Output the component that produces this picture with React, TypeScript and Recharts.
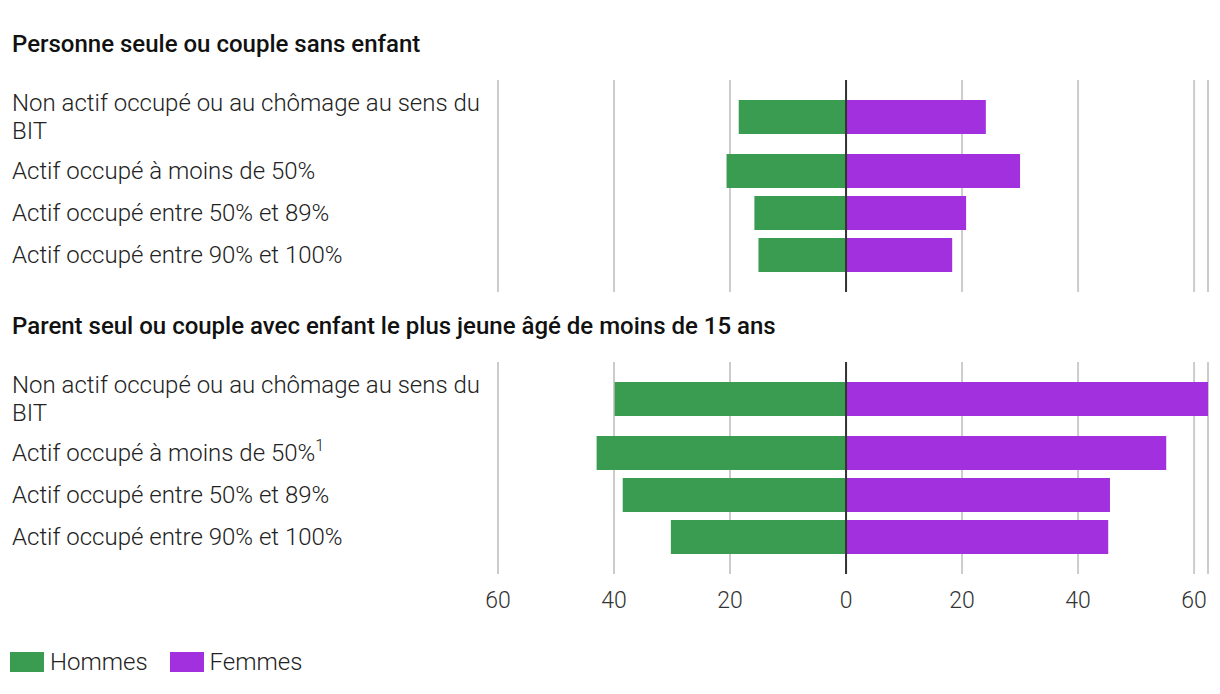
import { BarChart, Bar, XAxis, YAxis, CartesianGrid, ReferenceLine } from "recharts";

const categories1 = [
  "Non actif occupé ou au chômage au sens du BIT",
  "Actif occupé à moins de 50%",
  "Actif occupé entre 50% et 89%",
  "Actif occupé entre 90% et 100%",
];
const categories2 = [
  "Non actif occupé ou au chômage au sens du BIT",
  "Actif occupé à moins de 50%¹",
  "Actif occupé entre 50% et 89%",
  "Actif occupé entre 90% et 100%",
];
const hommes1 = [18.5, 20.6, 15.8, 15.1];
const femmes1 = [24.1, 30.0, 20.7, 18.3];
const hommes2 = [39.9, 43.0, 38.5, 30.2];
const femmes2 = [62.4, 55.2, 45.5, 45.2];
const xTicks = [-60, -40, -20, 0, 20, 40, 60];
const titles = [
  "Personne seule ou couple sans enfant",
  "Parent seul ou couple avec enfant le plus jeune âgé de moins de 15 ans",
];
const seriesNames = ["Hommes", "Femmes"];
const seriesColors = ["#3a9c50", "#a230de"];

const FONT = "Roboto, 'Noto Sans', sans-serif";
// même domaine pour les deux panneaux, la barre la plus longue touche le bord droit
const xMax = Math.max(60, ...femmes1, ...femmes2);
const MAX_CHARS = 42;
const LINE_H = 28;
// une ligne de libellé en plus agrandit la rangée d'environ 12px (pas de 42px)
const EXTRA_ROW = 12 / 42;
const EDGE_PAD = 37 / 42;

function wrap(label: string) {
  const lines: string[] = [];
  let cur = "";
  for (const w of label.split(" ")) {
    const next = cur ? cur + " " + w : w;
    if (next.length > MAX_CHARS && cur) {
      lines.push(cur);
      cur = w;
    } else cur = next;
  }
  lines.push(cur);
  return lines;
}

// hommes à gauche (valeurs négatives), femmes à droite
const buildRows = (cats: string[], h: number[], f: number[]) => {
  let pos = 0;
  return cats.map((name, i) => {
    const row = { name, pos, hommes: -h[i], femmes: f[i] };
    pos += 1 + (wrap(name).length - 1) * EXTRA_ROW;
    return row;
  });
};

const makeTick = (rows: any[]) => (props: any) => {
  const { y, index } = props;
  const lines = wrap(String(rows[index]?.name ?? ""));
  const y0 = y - ((lines.length - 1) * LINE_H) / 2;
  return (
    <text x={12} y={y0} fill="#222" style={{ fontFamily: FONT, fontSize: 24, fontWeight: 300 }} dominantBaseline="central">
      {lines.map((l, i) => {
        const sup = l.endsWith("¹");
        return (
          <tspan key={i} x={12} y={y0 + i * LINE_H}>
            {sup ? l.slice(0, -1) : l}
            {sup && (
              <tspan fontSize={16} dy={-8}>
                1
              </tspan>
            )}
          </tspan>
        );
      })}
    </text>
  );
};

function Panel({ rows, showAxis, height }: { rows: any[]; showAxis: boolean; height: number }) {
  const positions = rows.map((r) => r.pos);
  const last = positions[positions.length - 1];
  return (
    <BarChart
      width={1220}
      height={height}
      data={rows}
      layout="vertical"
      stackOffset="sign"
      margin={{ top: 10, right: 12, bottom: 0, left: 0 }}
    >
      <CartesianGrid horizontal={false} stroke="#cccccc" strokeWidth={2} />
      <XAxis
        type="number"
        domain={[-60, xMax]}
        ticks={xTicks}
        hide={!showAxis}
        height={40}
        axisLine={false}
        tickLine={false}
        tickMargin={12}
        tickFormatter={(v: number) => String(Math.abs(v))}
        tick={{ fill: "#333", fontSize: 23, fontWeight: 300, fontFamily: FONT }}
      />
      <YAxis
        type="number"
        dataKey="pos"
        domain={[-EDGE_PAD, last + EDGE_PAD]}
        ticks={positions}
        interval={0}
        width={498}
        axisLine={false}
        tickLine={false}
        tick={makeTick(rows)}
      />
      <Bar dataKey="hommes" name={seriesNames[0]} stackId="s" fill={seriesColors[0]} barSize={34} isAnimationActive={false} />
      <Bar dataKey="femmes" name={seriesNames[1]} stackId="s" fill={seriesColors[1]} barSize={34} isAnimationActive={false} />
      <ReferenceLine x={0} stroke="#333" strokeWidth={2} />
    </BarChart>
  );
}

const titleStyle = (top: number): React.CSSProperties => ({
  position: "absolute",
  left: 12,
  top,
  fontSize: 24,
  lineHeight: "28px",
  fontWeight: 500,
  color: "#111",
  whiteSpace: "nowrap",
});

export default function App() {
  return (
    <div style={{ position: "absolute", left: 0, top: 0, width: 1220, height: 694, background: "#fff", fontFamily: FONT }}>
      <div style={titleStyle(30)}>{titles[0]}</div>
      <div style={{ position: "absolute", left: 0, top: 70 }}>
        <Panel rows={buildRows(categories1, hommes1, femmes1)} showAxis={false} height={222} />
      </div>
      <div style={titleStyle(312)}>{titles[1]}</div>
      <div style={{ position: "absolute", left: 0, top: 352 }}>
        <Panel rows={buildRows(categories2, hommes2, femmes2)} showAxis={true} height={262} />
      </div>
      <div style={{ position: "absolute", left: 10, top: 648, display: "flex", alignItems: "center", fontSize: 24, lineHeight: "28px", fontWeight: 300, color: "#222" }}>
        {seriesNames.map((n, i) => (
          <div key={n} style={{ display: "flex", alignItems: "center", marginRight: 22 }}>
            <span style={{ display: "inline-block", width: 34, height: 20, background: seriesColors[i], marginRight: 6 }} />
            <span>{n}</span>
          </div>
        ))}
      </div>
    </div>
  );
}
